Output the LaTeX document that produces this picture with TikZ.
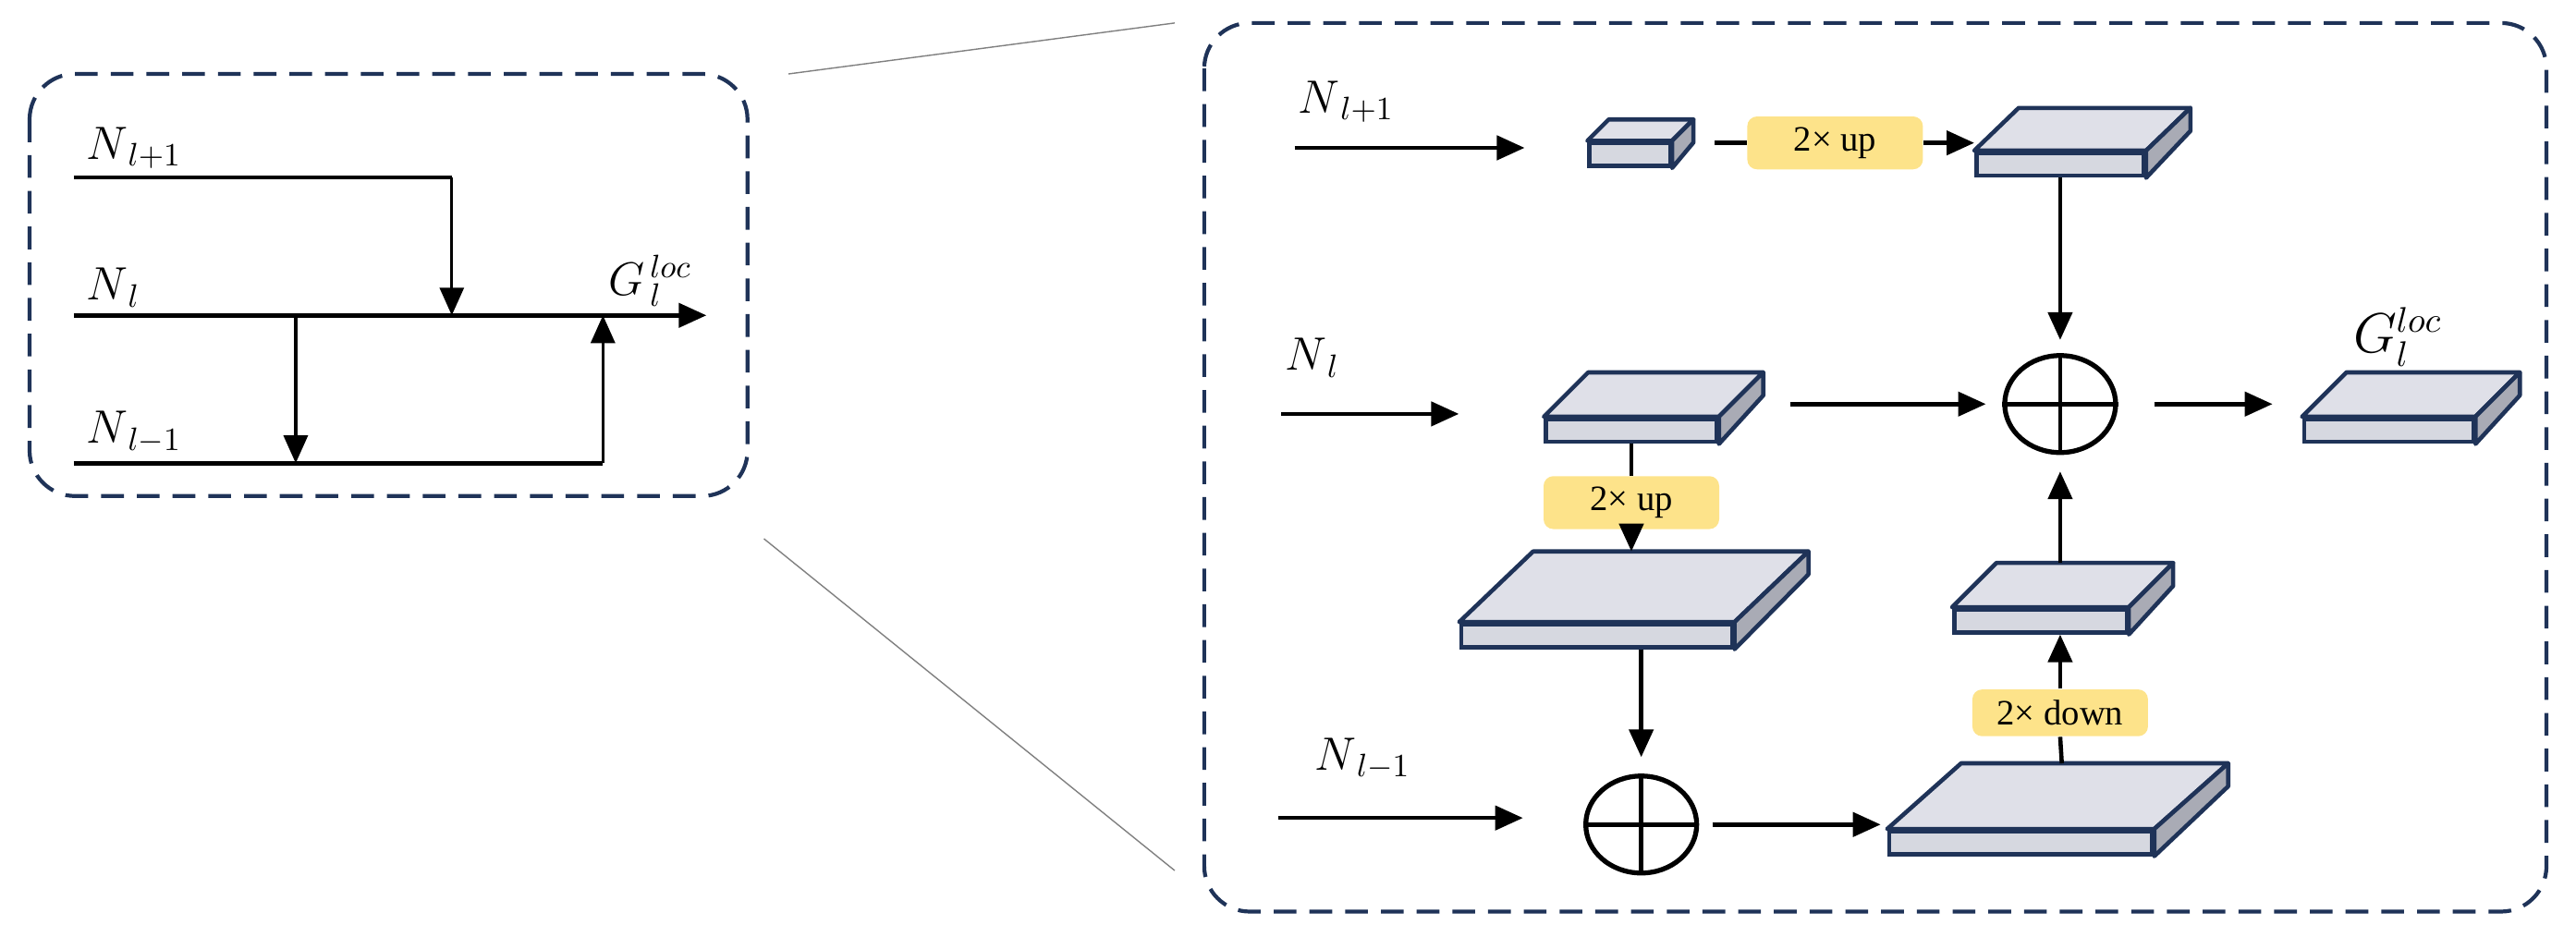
\documentclass[tikz,border=0pt]{standalone}
\usepackage{fontspec}
\setmainfont{Liberation Serif}
\usetikzlibrary{calc, arrows.meta, positioning, shapes.geometric}

\definecolor{navy}{HTML}{1F3358}
\definecolor{slabtop}{HTML}{DFE0E8}
\definecolor{slabfr}{HTML}{D6D8E0}
\definecolor{slabside}{HTML}{A9ABB5}
\definecolor{tag}{HTML}{FDE38A}

% front face of a feature slab, with its top and side drawn behind it
\newcommand{\slab}[6]{%
    \node[slabfront, minimum width=#4*0.01777cm] (#1) at (#2,#3) {};
    \draw[slabedge, fill=slabtop] (#1.north west) -- ++(#5,-#6) -- ($(#1.north east)+(#5,-#6)$) -- (#1.north east) -- cycle;
    \draw[slabedge, fill=slabside] (#1.north east) -- ++(#5,-#6) -- ++(0,14) -- (#1.south east) -- cycle;
}

\begin{document}
\begin{tikzpicture}[x=0.01777cm, y=-0.01777cm]

    \tikzstyle{frame} = [draw=navy, line width=1.2pt, dash pattern=on 7pt off 4pt, rounded corners=14pt];
    \tikzstyle{slabfront} = [draw=navy, line width=1.3pt, fill=slabfr, rectangle, minimum height=0.249cm, inner sep=0];
    \tikzstyle{slabedge} = [draw=navy, line width=1.3pt, line join=round];
    \tikzstyle{arrow} = [line width=1.3pt, -{Triangle[length=3mm, width=2.6mm]}];
    \tikzstyle{line} = [line width=1.3pt];
    \tikzstyle{tagnode} = [fill=tag, rounded corners=3pt, minimum width=1.9cm, minimum height=0.5cm, font=\fontsize{11}{13}\selectfont];
    \tikzstyle{sum} = [draw, ellipse, line width=1.5pt, minimum width=1.2cm, minimum height=1.05cm, inner sep=0];
    \tikzstyle{lbl} = [font=\fontsize{14}{16}\selectfont, anchor=west, inner sep=0];

    \useasboundingbox (0,0) rectangle (1568,570);

    % left overview
    \draw[frame] (18,45) rectangle (455,302);
    \coordinate (a1) at (45,108);
    \coordinate (a2) at (275,108);
    \coordinate (a3) at (275,192);
    \coordinate (b1) at (45,192);
    \coordinate (b2) at (430,192);
    \coordinate (b3) at (180,192);
    \coordinate (b4) at (180,282);
    \coordinate (c1) at (45,282);
    \coordinate (c2) at (367,282);
    \coordinate (c3) at (367,192);
    \node[lbl] at (52,90) {$N_{\,l+1}$};
    \node[lbl] at (52,175) {$N_{\,l}$};
    \node[lbl] at (52,263) {$N_{\,l-1}$};
    \node[lbl] at (370,171) {$G_{\,l}^{\,loc}$};
    \draw[line] (a1) -- (a2);
    \draw[arrow, line width=0.9pt] (a2) -- (a3);
    \draw[arrow] (b1) -- (b2);
    \draw[arrow, line width=0.9pt] (b3) -- (b4);
    \draw[line] (c1) -- (c2);
    \draw[arrow, line width=0.9pt] (c2) -- (c3);

    % zoom lines
    \coordinate (z1) at (480,45);
    \coordinate (z2) at (715,14);
    \coordinate (z3) at (465,328);
    \coordinate (z4) at (715,530);
    \draw[gray, thin] (z1) -- (z2);
    \draw[gray, thin] (z3) -- (z4);

    % right detail
    \draw[frame] (733,14) rectangle (1550,555);

    \slab{s1}{992}{94}{49}{13}{13}
    \slab{s2}{1254}{100}{102}{27}{26}
    \slab{s3}{993}{262}{104}{27}{27}
    \slab{s4}{1454}{262}{103}{27}{27}
    \slab{s5}{972}{387}{165}{45}{43}
    \slab{s6}{1242}{378}{105}{27}{27}
    \slab{s7}{1230}{513}{160}{45}{40}

    \node[sum] (p1) at (1254,246) {};
    \draw[line] (p1.north) -- (p1.south) (p1.west) -- (p1.east);
    \node[sum] (p2) at (999,502) {};
    \draw[line] (p2.north) -- (p2.south) (p2.west) -- (p2.east);

    \node[tagnode] (u1) at (1117,87) {2× up};
    \node[tagnode] (u2) at (993,306) {2× up};
    \node[tagnode] (d1) at (1254,434) {2× down};

    \node[lbl] (n1) at (790,62) {$N_{\,l+1}$};
    \node[lbl] (n2) at (782,218) {$N_{\,l}$};
    \node[lbl] (n3) at (800,462) {$N_{\,l-1}$};
    \node[lbl, font=\fontsize{16}{18}\selectfont] (g) at (1432,205) {$G_{l}^{loc}$};

    \coordinate (i1) at (788,90);
    \coordinate (i2) at (928,90);
    \coordinate (i3) at (780,252);
    \coordinate (i4) at (888,252);
    \coordinate (i5) at (778,498);
    \coordinate (i6) at (927,498);
    \draw[arrow] (i1) -- (i2);
    \draw[arrow] (i3) -- (i4);
    \draw[arrow] (i5) -- (i6);

    \draw[line] ($(s1.east)+(26,-7)$) -- (u1.west);
    \draw[arrow] (u1.east) -- (s2.west |- u1.east);
    \draw[arrow] (s2.south) -- ($(p1.north)+(0,-8)$);
    \draw[arrow] (1090,246) -- ($(p1.west)+(-10,0)$);
    \draw[arrow] ($(p1.east)+(22,0)$) -- ++(72,0);
    \draw[line] (s3.south) -- (u2.north);
    \draw[arrow] (u2.south) -- ($(u2.south |- s5.north)+(0,-43)$);
    \draw[arrow] (p2 |- s5.south) -- ($(p2.north)+(0,-10)$);
    \draw[arrow] ($(p2.east)+(8,0)$) -- ($(p2.east -| s7.west)+(-4,0)$);
    \draw[line] (s7.north) ++(25,-40) -- (d1.south);
    \draw[arrow] (d1.north) -- ($(s6.south)+(12,0)$);
    \draw[arrow] ($(s6.north)+(12,-27)$) -- ($(p1.south)+(0,10)$);

\end{tikzpicture}
\end{document}
